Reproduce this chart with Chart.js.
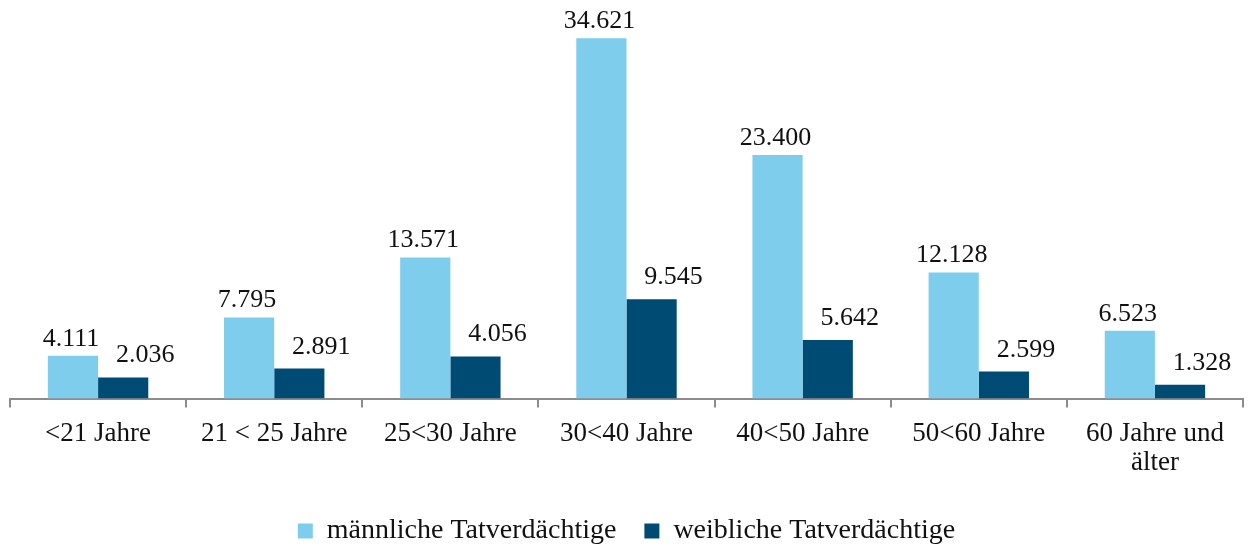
<!DOCTYPE html>
<html>
<head>
<meta charset="utf-8">
<script src="https://cdn.jsdelivr.net/npm/chart.js@4"></script>
<style>
  html,body{margin:0;padding:0;background:#fff;}
  #wrap{width:1249px;height:545px;position:relative;}
</style>
</head>
<body>
<div id="wrap"><canvas id="chart"></canvas></div>
<script>
// Tatverdächtige nach Alter und Geschlecht
const categories = ['<21 Jahre','21 < 25 Jahre','25<30 Jahre','30<40 Jahre','40<50 Jahre','50<60 Jahre',['60 Jahre und','älter']];
const maleValues = [4111,7795,13571,34621,23400,12128,6523];
const femaleValues = [2036,2891,4056,9545,5642,2599,1328];
const seriesNames = ['männliche Tatverdächtige','weibliche Tatverdächtige'];

const lightBlue='#7fcdec';
const darkBlue='#004b74';
const axisColor='#8c8c8c';
const fontFamily="'Liberation Serif', 'Times New Roman', serif";

const fmt = v => v.toLocaleString('de-DE');

// value labels above bars (dark series sits a bit to the right, like the original)
const valueLabels = {
  id:'valueLabels',
  afterDatasetsDraw(chart){
    const ctx=chart.ctx;
    ctx.save();
    ctx.font='26px '+fontFamily;
    ctx.fillStyle='#111';
    ctx.textAlign='center';
    ctx.textBaseline='alphabetic';
    chart.data.datasets.forEach((ds,di)=>{
      const meta=chart.getDatasetMeta(di);
      meta.data.forEach((bar,i)=>{
        const dx = di===1 ? 22 : -2;
        const gap = di===1 ? 15 : 10;
        ctx.fillText(fmt(ds.data[i]), bar.x+dx, bar.y-gap);
      });
    });
    ctx.restore();
  }
};

new Chart(document.getElementById('chart'), {
  type:'bar',
  data:{
    labels:categories,
    datasets:[
      {label:seriesNames[0],data:maleValues,backgroundColor:lightBlue,categoryPercentage:0.57,barPercentage:1},
      {label:seriesNames[1],data:femaleValues,backgroundColor:darkBlue,categoryPercentage:0.57,barPercentage:1}
    ]
  },
  options:{
    responsive:true, maintainAspectRatio:false, animation:false,
    layout:{padding:{left:10,right:6,top:24,bottom:-10}},
    plugins:{
      legend:{display:true,position:'bottom',
        labels:{color:'#111',font:{size:28,family:fontFamily,lineHeight:1},boxWidth:15,boxHeight:15,padding:28}},
      tooltip:{enabled:false}
    },
    scales:{
      x:{
        grid:{display:true,drawOnChartArea:false,drawTicks:true,tickLength:9,color:axisColor,lineWidth:2,offset:true},
        border:{display:true,color:axisColor,width:2},
        ticks:{color:'#111',font:{size:27,family:fontFamily,lineHeight:1.1},padding:11,maxRotation:0,autoSkip:false}
      },
      y:{display:false,min:0,max:36000}
    }
  },
  plugins:[valueLabels]
});
</script>
</body>
</html>
